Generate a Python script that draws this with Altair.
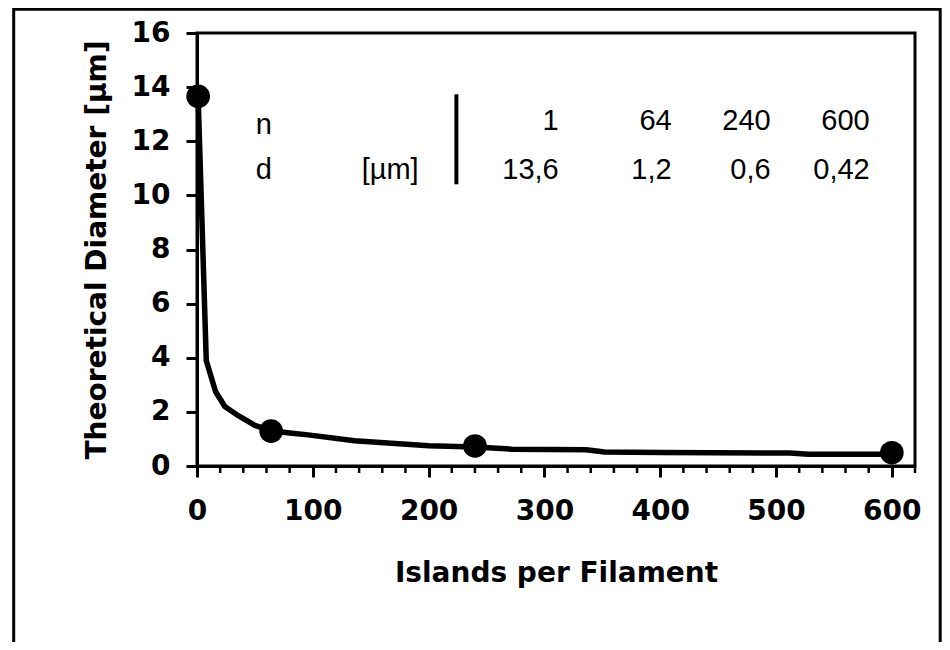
import altair as alt
import pandas as pd

# ---------------- data ----------------
line_n = [1, 8, 16, 24, 36, 50, 64, 80, 96, 136, 168, 200, 240, 272, 336, 352, 400, 512, 528, 600]
line_d = [13.6, 3.9, 2.75, 2.2, 1.85, 1.5, 1.3, 1.22, 1.15, 0.93, 0.84, 0.75, 0.7, 0.62, 0.6, 0.52, 0.5, 0.48, 0.43, 0.43]

marker_n = [1, 64, 240, 600]
marker_d = [13.66, 1.29, 0.74, 0.49]

row_labels = ["n", "d"]
unit_label = "[µm]"
table_n = ["1", "64", "240", "600"]
table_d = ["13,6", "1,2", "0,6", "0,42"]

x_major = [0, 100, 200, 300, 400, 500, 600]
x_minor = [v for v in range(0, 621, 20) if v % 100 != 0]
y_major = [0, 2, 4, 6, 8, 10, 12, 14, 16]

# ---------------- layout ----------------
W, H = 718, 433
X0, Y0 = 197.3, 466.7          # page pixel of data origin
KX, KY = W / 620.0, H / 16.0


def dx(px):
    return (px - X0) / KX


def dy(py):
    return (Y0 - py) / KY


FONT_B = "DejaVu Sans"
FONT_T = "Liberation Sans"

xs = alt.Scale(domain=[0, 620], nice=False, zero=False)
ys = alt.Scale(domain=[0, 16], nice=False)

line_df = pd.DataFrame({"n": line_n, "d": line_d})
mark_df = pd.DataFrame({"n": marker_n, "d": marker_d})

line = alt.Chart(line_df).mark_line(color="black", strokeWidth=5.5, strokeJoin="round").encode(
    x=alt.X("n:Q", scale=xs,
            axis=alt.Axis(values=x_major, tickSize=11, orient="bottom", labelFlush=False,
                          title="Islands per Filament", labelPadding=20, titlePadding=34)),
    y=alt.Y("d:Q", scale=ys,
            axis=alt.Axis(values=y_major, tickSize=11, title="Theoretical Diameter [µm]",
                          labelFlush=False, labelPadding=16, titlePadding=20)),
)

minor = alt.Chart(pd.DataFrame({"n": x_minor})).mark_rule(color="black", strokeWidth=2.5).encode(
    x=alt.X("n:Q", scale=xs),
    y=alt.value(H),
    y2=alt.value(H + 7),
)

points = alt.Chart(mark_df).mark_circle(color="black", size=560, opacity=1).encode(
    x=alt.X("n:Q", scale=xs),
    y=alt.Y("d:Q", scale=ys),
)

# table annotation
left_df = pd.DataFrame({
    "t": row_labels + [unit_label],
    "x": [dx(256), dx(256), dx(362)],
    "y": [dy(135), dy(180), dy(180)],
})
right_x = [dx(559), dx(672), dx(771), dx(870)]
right_df = pd.DataFrame({
    "t": table_n + table_d,
    "x": right_x + right_x,
    "y": [dy(131)] * 4 + [dy(180)] * 4,
})

left_txt = alt.Chart(left_df).mark_text(align="left", baseline="alphabetic", font=FONT_T,
                                        fontSize=29, color="black").encode(
    x=alt.X("x:Q", scale=xs), y=alt.Y("y:Q", scale=ys), text="t:N")
right_txt = alt.Chart(right_df).mark_text(align="right", baseline="alphabetic", font=FONT_T,
                                          fontSize=29, color="black").encode(
    x=alt.X("x:Q", scale=xs), y=alt.Y("y:Q", scale=ys), text="t:N")

bar_df = pd.DataFrame({"x": [dx(456.7)], "y": [dy(95)], "y2": [dy(185)]})
bar = alt.Chart(bar_df).mark_rule(color="black", strokeWidth=4).encode(
    x=alt.X("x:Q", scale=xs), y=alt.Y("y:Q", scale=ys), y2="y2:Q")

frame = alt.Chart(pd.DataFrame({"k": [0]})).mark_rect(
    fill="transparent", stroke="black", strokeWidth=3).encode(
    x=alt.value(14 - X0), x2=alt.value(940.5 - X0),
    y=alt.value(9.5 - 33.3), y2=alt.value(700))

chart = alt.layer(line, minor, points, bar, left_txt, right_txt, frame).properties(
    width=W, height=H,
    autosize=alt.AutoSizeParams(type="none"),
    padding={"left": 189, "top": 25, "right": 27, "bottom": 176},
).configure_view(stroke="black", strokeWidth=3).configure_axis(
    labelFont=FONT_B, labelFontWeight="bold", labelFontSize=28, labelColor="black",
    titleFont=FONT_B, titleFontWeight="bold", titleFontSize=28, titleColor="black",
    domainColor="black", domainWidth=3, tickColor="black", tickWidth=3, grid=False,
)

chart.save("out.html", embed_options={"renderer": "svg", "actions": False})
